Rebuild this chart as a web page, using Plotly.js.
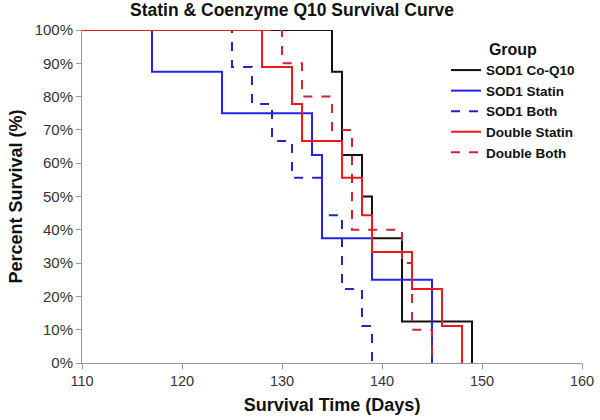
<!DOCTYPE html>
<html>
<head>
<meta charset="utf-8">
<script src="https://cdn.plot.ly/plotly-3.0.1.min.js"></script>
<style>html,body{margin:0;padding:0;background:#fff;}#chart{width:600px;height:420px;}</style>
</head>
<body>
<div id="chart"></div>
<script>
// Survival times (days) at which each curve steps down; first point is the start of the axis
const coq10Days   = [110, 135, 136, 138, 139, 142, 149];
const coq10Surv   = [100, 87.5, 62.5, 50, 37.5, 12.5, 0];

const sodStatinDays = [110, 117, 124, 133, 134, 139, 145];
const sodStatinSurv = [100, 87.5, 75, 62.5, 37.5, 25, 0];

const sodBothDays = [110, 125, 127, 129, 131, 134, 136, 138, 139];
const sodBothSurv = [100, 88.9, 77.8, 66.7, 55.6, 44.4, 22.2, 11.1, 0];

const dblStatinDays = [110, 128, 131, 132, 136, 138, 139, 143, 146, 148];
const dblStatinSurv = [100, 88.9, 77.8, 66.7, 55.6, 44.4, 33.3, 22.2, 11.1, 0];

const dblBothDays = [110, 130, 132, 135, 137, 142, 143, 145];
const dblBothSurv = [100, 90, 80, 70, 40, 30, 10, 0];

const groupNames = ['SOD1 Co-Q10', 'SOD1 Statin', 'SOD1 Both', 'Double Statin', 'Double Both'];
const xTicks = [110, 120, 130, 140, 150, 160];
const yTicks = [0, 10, 20, 30, 40, 50, 60, 70, 80, 90, 100];

const series = [
  {x: coq10Days, y: coq10Surv, color: '#111111', dash: 'solid'},
  {x: sodStatinDays, y: sodStatinSurv, color: '#2424f2', dash: 'solid'},
  {x: sodBothDays, y: sodBothSurv, color: '#2424c8', dash: 'dash'},
  {x: dblStatinDays, y: dblStatinSurv, color: '#f01818', dash: 'solid'},
  {x: dblBothDays, y: dblBothSurv, color: '#d82030', dash: 'dash'}
];

const traces = series.map((s, i) => ({
  type: 'scatter',
  mode: 'lines',
  x: s.x,
  y: s.y,
  name: '<b>' + groupNames[i] + '</b>',
  legendrank: i + 1,
  line: {shape: 'hv', color: s.color, width: 2, dash: s.dash},
  cliponaxis: false
}));
// draw order: red solid on top at 100%
const ordered = [traces[0], traces[1], traces[2], traces[4], traces[3]];

const font = 'Liberation Sans, Arial, sans-serif';
const layout = {
  width: 600, height: 420,
  margin: {l: 82, r: 18, t: 30, b: 57},
  paper_bgcolor: '#fff', plot_bgcolor: '#fff',
  font: {family: font, size: 14, color: '#333'},
  title: {text: '<b>Statin & Coenzyme Q10 Survival Curve</b>', font: {family: font, size: 17.5, color: '#111'},
          xref: 'paper', x: 0.42, xanchor: 'center', y: 0.99, yanchor: 'top'},
  xaxis: {
    range: [110, 160], tickvals: xTicks, ticktext: xTicks.map(String),
    showgrid: false, zeroline: false, showline: true, linecolor: '#999', linewidth: 1,
    ticks: 'outside', ticklen: 5, tickcolor: '#999',
    tickfont: {family: font, size: 14.5, color: '#333'},
    title: {text: '<b>Survival Time (Days)</b>', font: {family: font, size: 18, color: '#111'}, standoff: 9}
  },
  yaxis: {
    range: [0, 100], tickvals: yTicks, ticktext: yTicks.map(v => v + '%'),
    showgrid: false, zeroline: false, showline: true, linecolor: '#999', linewidth: 1,
    ticks: 'outside', ticklen: 5, tickcolor: '#999',
    tickfont: {family: font, size: 15, color: '#333'},
    title: {text: '<b>Percent Survival (%)</b>', font: {family: font, size: 18, color: '#111'}, standoff: 7}
  },
  showlegend: true,
  legend: {
    x: 0.728, y: 0.988, xanchor: 'left', yanchor: 'top',
    bgcolor: 'rgba(255,255,255,0)',
    traceorder: 'normal',
    itemwidth: 30,
    tracegroupgap: 0,
    font: {family: font, size: 13.5, color: '#111'},
    title: {text: '<b>Group</b>', side: 'top center', font: {family: font, size: 16, color: '#111'}}
  }
};

Plotly.newPlot('chart', ordered, layout, {displayModeBar: false, staticPlot: true});
</script>
</body>
</html>
